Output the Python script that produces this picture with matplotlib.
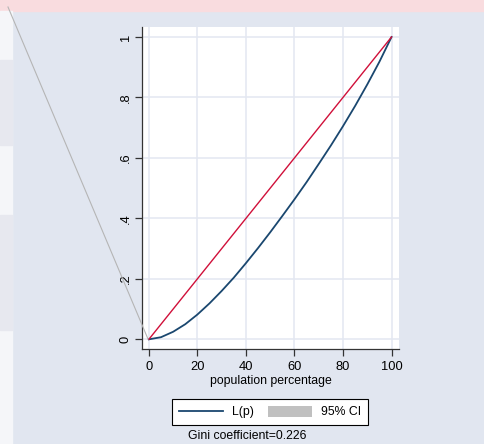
import matplotlib.pyplot as plt
from matplotlib.lines import Line2D
from matplotlib.patches import Patch, Rectangle

plt.rcParams['font.family'] = ['Liberation Sans', 'DejaVu Sans']

# Lorenz curve
pop_pct = [0, 5, 10, 15, 20, 25, 30, 35, 40, 45, 50, 55, 60, 65, 70, 75, 80, 85, 90, 95, 100]
lorenz = [0, 0.007, 0.025, 0.050, 0.082, 0.119, 0.160, 0.204, 0.252, 0.302, 0.354,
          0.408, 0.463, 0.520, 0.580, 0.641, 0.705, 0.772, 0.843, 0.918, 1.0]
equality_x = [0, 100]
equality_y = [0, 1]
x_ticks = [0, 20, 40, 60, 80, 100]
y_ticks = [0, 0.2, 0.4, 0.6, 0.8, 1]
y_tick_labels = ['0', '.2', '.4', '.6', '.8', '1']
gini = 0.226

W, H = 485, 444
fig = plt.figure(figsize=(W / 100, H / 100), dpi=100, facecolor='#e1e6f0')

# page decoration around the graph (screenshot background)
fig.patches.append(Rectangle((0, 1 - 11 / H), 1, 11 / H, transform=fig.transFigure,
                             color='#f9dcdf', zorder=0))
fig.patches.append(Rectangle((0, 0), 12 / W, 1 - 11 / H, transform=fig.transFigure,
                             color='#f5f6f9', zorder=0))
for y0, y1 in [(60, 145), (215, 330)]:
    fig.patches.append(Rectangle((0, 1 - y1 / H), 12 / W, (y1 - y0) / H,
                                 transform=fig.transFigure, color='#e7e8ef', zorder=0))
fig.lines.append(Line2D([8 / W, 148 / W], [1 - 7 / H, 1 - 339 / H], transform=fig.transFigure,
                        color='#b5b5b5', lw=0.8, zorder=5))

ax = fig.add_axes([141.7 / W, 1 - 349 / H, (399.3 - 141.7) / W, (349 - 26.7) / H])
ax.set_facecolor('white')

ax.plot(pop_pct, lorenz, color='#1a476f', lw=1.3, zorder=3)
ax.plot(equality_x, equality_y, color='#d0103a', lw=1.0, zorder=3)

ax.set_xlim(-2.95, 103.2)
ax.set_ylim(-0.032, 1.034)
ax.set_xticks(x_ticks)
ax.set_yticks(y_ticks)
ax.set_yticklabels(y_tick_labels, rotation=90, va='center')
ax.grid(True, color='#e3e7f1', lw=1.1)
ax.set_axisbelow(True)
for s in ['top', 'right']:
    ax.spines[s].set_visible(False)
for s in ['left', 'bottom']:
    ax.spines[s].set_color('#333333')
    ax.spines[s].set_linewidth(0.9)
ax.tick_params(axis='both', length=5, width=0.9, color='#333333', labelsize=9.3)
ax.tick_params(axis='x', pad=4)
ax.tick_params(axis='y', pad=2)
ax.set_xlabel('population percentage', fontsize=8.8, labelpad=1)

handles = [Line2D([], [], color='#1a476f', lw=1.3),
           Patch(facecolor='#c0c0c0', edgecolor='none')]
leg = fig.legend(handles, ['L(p)', '95% CI'], ncol=2, loc='center',
                 bbox_to_anchor=(270 / W, 1 - 412 / H), fontsize=8.8, frameon=True,
                 fancybox=False, edgecolor='black', framealpha=1,
                 handlelength=3.6, handleheight=1.0, handletextpad=0.7,
                 columnspacing=1.2, borderpad=0.55, borderaxespad=0)
leg.get_frame().set_linewidth(0.8)

fig.text(247 / W, 1 - 436 / H, 'Gini coefficient=%.3f' % gini, ha='center', va='center',
         fontsize=8.8)

fig.savefig('out.png', dpi=100, facecolor=fig.get_facecolor())
